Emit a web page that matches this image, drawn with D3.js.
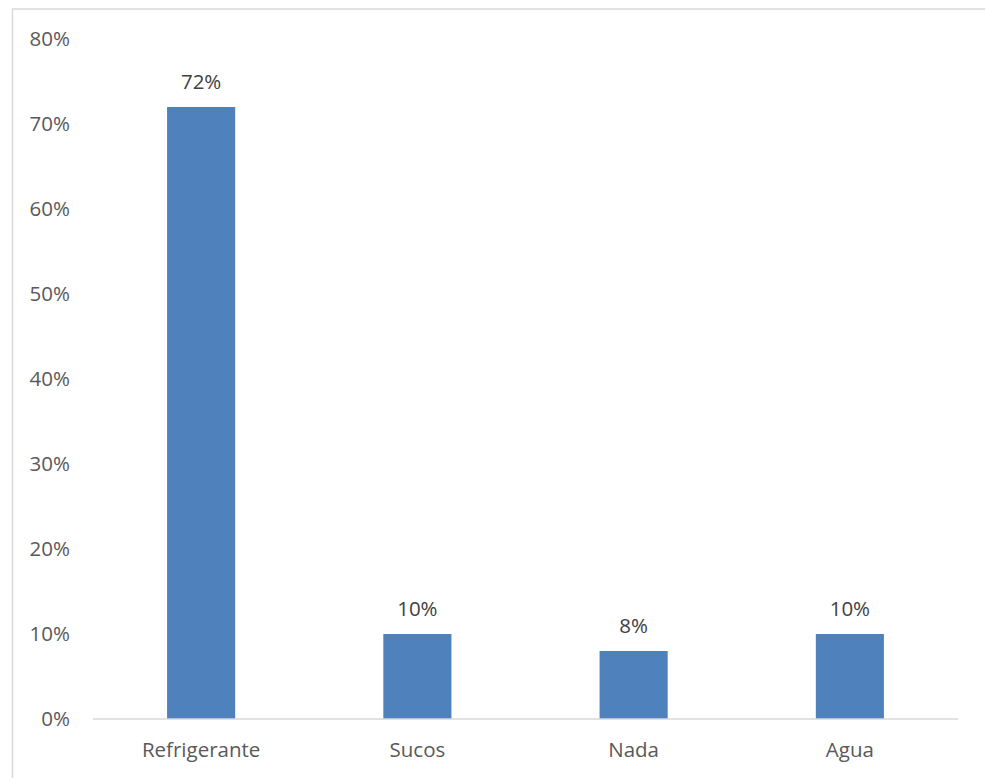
<!DOCTYPE html>
<html><head><meta charset="utf-8">
<script src="https://cdn.jsdelivr.net/npm/d3@7"></script>
<style>body{margin:0;background:#fff}</style>
</head><body>
<script>
const categories = ["Refrigerante", "Sucos", "Nada", "Agua"];
const values = [0.72, 0.10, 0.08, 0.10];
const yTicks = [0, 0.1, 0.2, 0.3, 0.4, 0.5, 0.6, 0.7, 0.8];

const W = 985, H = 778;
const svg = d3.select("body").append("svg").attr("width", W).attr("height", H);
const font = "'Open Sans', sans-serif";
const textColor = "#595959";
const fs = 20.5;

// outer chart border
svg.append("rect").attr("x", 12.5).attr("y", 9).attr("width", 1000).attr("height", 800)
  .attr("fill", "none").attr("stroke", "#d9d9d9").attr("stroke-width", 1.5);

const x = d3.scaleBand().domain(categories).range([93, 958]).padding(0);
const y = d3.scaleLinear().domain([0, 0.8]).range([719, 39]);
const barW = x.bandwidth() * 0.315;

// y tick labels
svg.append("g").selectAll("text").data(yTicks).join("text")
  .attr("x", 70).attr("y", d => y(d)).attr("dy", "0.34em")
  .attr("text-anchor", "end").attr("font-family", font).attr("font-size", fs)
  .attr("fill", textColor).text(d => d3.format(".0%")(d));

// bars
svg.append("g").selectAll("rect").data(values).join("rect")
  .attr("x", (d, i) => x(categories[i]) + x.bandwidth() / 2 - barW / 2)
  .attr("y", d => y(d)).attr("width", barW).attr("height", d => y(0) - y(d))
  .attr("fill", "#4f81bd");

// baseline
svg.append("line").attr("x1", 93).attr("x2", 958).attr("y1", y(0)).attr("y2", y(0))
  .attr("stroke", "#d9d9d9").attr("stroke-width", 1.5);

// data labels
svg.append("g").selectAll("text").data(values).join("text")
  .attr("x", (d, i) => x(categories[i]) + x.bandwidth() / 2)
  .attr("y", d => y(d) - 18)
  .attr("text-anchor", "middle").attr("font-family", font).attr("font-size", fs)
  .attr("fill", "#404040").text(d => d3.format(".0%")(d));

// category labels
svg.append("g").selectAll("text").data(categories).join("text")
  .attr("x", d => x(d) + x.bandwidth() / 2).attr("y", 757)
  .attr("text-anchor", "middle").attr("font-family", font).attr("font-size", fs)
  .attr("fill", textColor).text(d => d);
</script>
</body></html>
